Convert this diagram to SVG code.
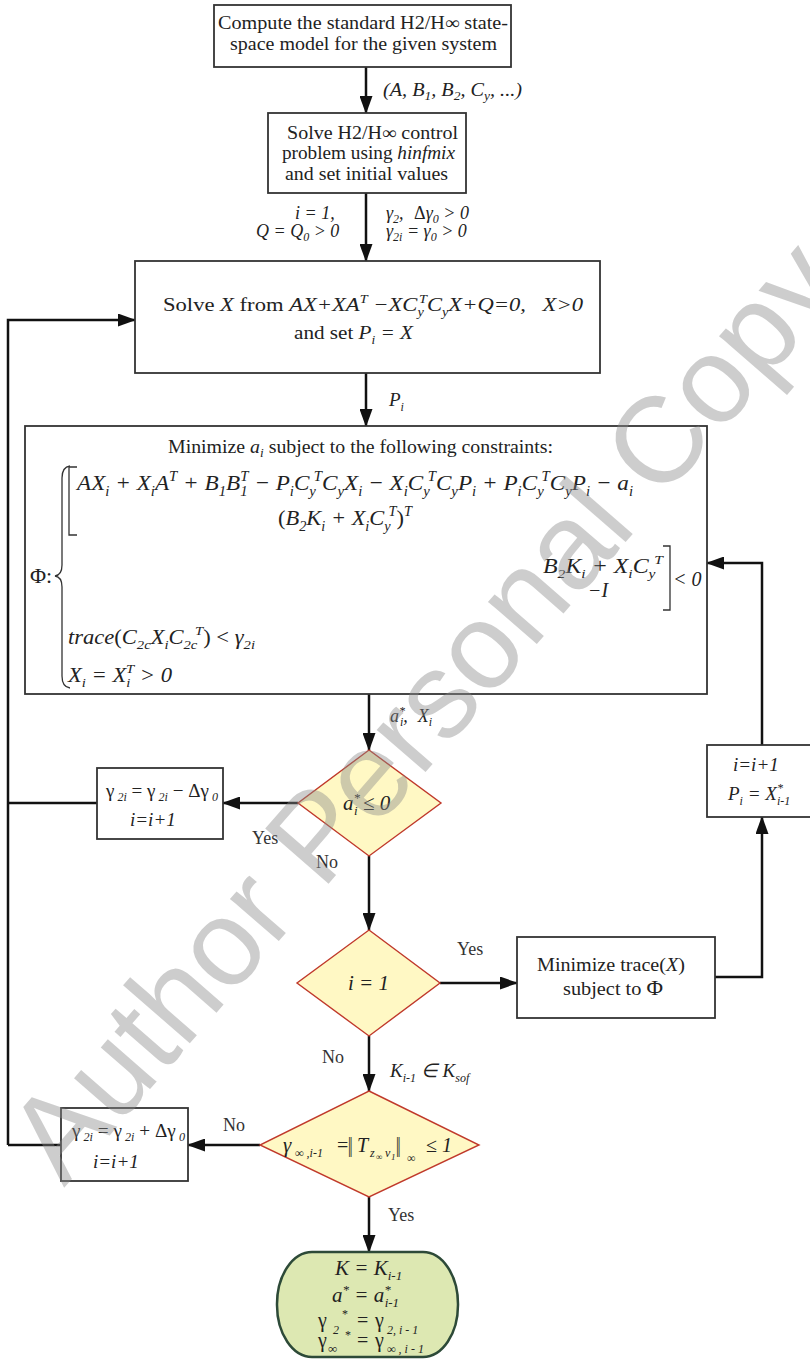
<svg xmlns="http://www.w3.org/2000/svg" width="810" height="1361" viewBox="0 0 810 1361">
<style>
.bx{fill:#fff;stroke:#333;stroke-width:1.8}
.dm{fill:#fff8c4;stroke:#c0392b;stroke-width:1.4}
.cn path{fill:none;stroke:#111;stroke-width:2.5}
.t{font-family:"Liberation Serif","Times New Roman",serif;fill:#222}
.i{font-style:italic}
.lb{font-family:"Liberation Serif","Times New Roman",serif;fill:#333;font-size:18px}
.br{fill:none;stroke:#333;stroke-width:1.3}
</style>
<defs>
<marker id="ah" markerUnits="userSpaceOnUse" markerWidth="18" markerHeight="13" refX="17" refY="6.5" orient="auto"><path d="M0,0 L18,6.5 L0,13 z" fill="#111"/></marker>
</defs>
<rect width="810" height="1361" fill="#fff"/>

<g id="connectors" class="cn">
<path d="M366,67 V113" marker-end="url(#ah)"/>
<path d="M366,193 V261" marker-end="url(#ah)"/>
<path d="M366,373 V426" marker-end="url(#ah)"/>
<path d="M369,694 V750" marker-end="url(#ah)"/>
<path d="M298,803 H223" marker-end="url(#ah)"/>
<path d="M97,803 H8"/>
<path d="M8,1145 V320 H135" marker-end="url(#ah)"/>
<path d="M61,1145 H8"/>
<path d="M369,856 V930" marker-end="url(#ah)"/>
<path d="M440,983 H517" marker-end="url(#ah)"/>
<path d="M715,977 H762 V817" marker-end="url(#ah)"/>
<path d="M762,745 V563 H707" marker-end="url(#ah)"/>
<path d="M369,1036 V1091" marker-end="url(#ah)"/>
<path d="M260,1145 H188" marker-end="url(#ah)"/>
<path d="M369,1197 V1252" marker-end="url(#ah)"/>
</g>

<g id="edge-labels">
<text class="t i" font-size="18" x="383" y="96" textLength="139" lengthAdjust="spacingAndGlyphs">(A, B<tspan font-size="12" dy="4">1</tspan><tspan dy="-4">, B</tspan><tspan font-size="12" dy="4">2</tspan><tspan dy="-4">, C</tspan><tspan font-size="12" dy="4">y</tspan><tspan dy="-4">, ...)</tspan></text>
<text class="t i" font-size="18" x="295" y="219">i = 1,</text>
<text class="t i" font-size="18" x="256" y="237">Q = Q<tspan font-size="12" dy="4">0</tspan><tspan dy="-4"> &gt; 0</tspan></text>
<text class="t i" font-size="18" x="386" y="219">γ<tspan font-size="12" dy="4">2</tspan><tspan dy="-4">,  </tspan><tspan font-style="normal" dx="6">Δ</tspan>γ<tspan font-size="12" dy="4">0</tspan><tspan dy="-4"> &gt; 0</tspan></text>
<text class="t i" font-size="18" x="386" y="237">γ<tspan font-size="12" dy="4">2i</tspan><tspan dy="-4"> = γ</tspan><tspan font-size="12" dy="4">0</tspan><tspan dy="-4"> &gt; 0</tspan></text>
<text class="t i" font-size="19" x="389" y="406">P<tspan font-size="12" dy="5">i</tspan></text>
<text class="t i" font-size="18" x="390" y="722">a<tspan font-size="12" dy="-7">*</tspan><tspan font-size="12" dx="-5" dy="11">i</tspan><tspan dy="-4">,</tspan><tspan dx="10">X</tspan><tspan font-size="12" dy="4">i</tspan></text>
<text class="lb" x="252" y="844">Yes</text>
<text class="lb" x="316" y="868">No</text>
<text class="lb" x="457" y="955">Yes</text>
<text class="lb" x="322" y="1063">No</text>
<text class="t i" font-size="19" x="390" y="1077">K<tspan font-size="12" dy="5">i-1</tspan><tspan dy="-5"> ∈ K</tspan><tspan font-size="12" dy="5">sof</tspan></text>
<text class="lb" x="223" y="1131">No</text>
<text class="lb" x="388" y="1221">Yes</text>
</g>

<g id="n1">
<rect class="bx" x="214" y="5" width="297" height="62"/>
<text class="t" font-size="18" x="218" y="29" textLength="290" lengthAdjust="spacingAndGlyphs">Compute the standard H2/H∞ state-</text>
<text class="t" font-size="18" x="230" y="50" textLength="267" lengthAdjust="spacingAndGlyphs">space model for the given system</text>
</g>

<g id="n2">
<rect class="bx" x="268" y="113" width="198" height="80"/>
<text class="t" font-size="18" x="287" y="139" textLength="171" lengthAdjust="spacingAndGlyphs">Solve H2/H∞ control</text>
<text class="t" font-size="18" x="282" y="159" textLength="173" lengthAdjust="spacingAndGlyphs">problem using <tspan class="i">hinfmix</tspan></text>
<text class="t" font-size="18" x="285" y="180" textLength="163" lengthAdjust="spacingAndGlyphs">and set initial values</text>
</g>

<g id="n3">
<rect class="bx" x="135" y="261" width="465" height="112"/>
<text class="t" font-size="19" x="163" y="311" textLength="420" lengthAdjust="spacingAndGlyphs">Solve <tspan class="i">X</tspan> from <tspan class="i">AX+XA</tspan><tspan class="i" font-size="12" dy="-8">T</tspan><tspan class="i" dy="8"> −XC</tspan><tspan class="i" font-size="12" dy="5">y</tspan><tspan class="i" font-size="12" dx="-4" dy="-13">T</tspan><tspan class="i" dy="8">C</tspan><tspan class="i" font-size="12" dy="5">y</tspan><tspan class="i" dy="-5">X+Q=0,</tspan><tspan class="i" dx="14">X&gt;0</tspan></text>
<text class="t" font-size="19" x="294" y="339" textLength="119" lengthAdjust="spacingAndGlyphs">and set <tspan class="i">P</tspan><tspan class="i" font-size="12" dy="5">i</tspan><tspan class="i" dy="-5"> = X</tspan></text>
</g>

<g id="n4">
<rect class="bx" x="25" y="426" width="682" height="268"/>
<text class="t" font-size="18" x="168" y="453" textLength="385" lengthAdjust="spacingAndGlyphs">Minimize <tspan class="i">a</tspan><tspan class="i" font-size="12" dy="4">i</tspan><tspan dy="-4"> subject to the following constraints:</tspan></text>
<path class="br" d="M77,467 H69 V535 H77"/>
<path class="br" d="M663,546 H670 V610 H663"/>
<path class="br" d="M70,466 Q62,467 62,478 L62,565 Q62,575 55,576 Q62,577 62,587 L62,676 Q62,687 70,688"/>
<text class="t" font-size="22" x="30" y="583">Φ:</text>
<text class="t i" font-size="22" x="77" y="490" textLength="556" lengthAdjust="spacingAndGlyphs">AX<tspan font-size="14" dy="6">i</tspan><tspan dy="-6"> + X</tspan><tspan font-size="14" dy="6">i</tspan><tspan dy="-6">A</tspan><tspan font-size="14" dy="-9">T</tspan><tspan dy="9"> + B</tspan><tspan font-size="14" dy="6">1</tspan><tspan dy="-6">B</tspan><tspan font-size="14" dy="6">1</tspan><tspan font-size="14" dx="-7" dy="-15">T</tspan><tspan dy="9"> − P</tspan><tspan font-size="14" dy="6">i</tspan><tspan dy="-6">C</tspan><tspan font-size="14" dy="6">y</tspan><tspan font-size="14" dx="-2" dy="-15">T</tspan><tspan dy="9">C</tspan><tspan font-size="14" dy="6">y</tspan><tspan dy="-6">X</tspan><tspan font-size="14" dy="6">i</tspan><tspan dy="-6"> − X</tspan><tspan font-size="14" dy="6">i</tspan><tspan dy="-6">C</tspan><tspan font-size="14" dy="6">y</tspan><tspan font-size="14" dx="-2" dy="-15">T</tspan><tspan dy="9">C</tspan><tspan font-size="14" dy="6">y</tspan><tspan dy="-6">P</tspan><tspan font-size="14" dy="6">i</tspan><tspan dy="-6"> + P</tspan><tspan font-size="14" dy="6">i</tspan><tspan dy="-6">C</tspan><tspan font-size="14" dy="6">y</tspan><tspan font-size="14" dx="-2" dy="-15">T</tspan><tspan dy="9">C</tspan><tspan font-size="14" dy="6">y</tspan><tspan dy="-6">P</tspan><tspan font-size="14" dy="6">i</tspan><tspan dy="-6"> − a</tspan><tspan font-size="14" dy="6">i</tspan></text>
<text class="t i" font-size="22" x="278" y="525" textLength="134" lengthAdjust="spacingAndGlyphs"><tspan font-style="normal">(</tspan>B<tspan font-size="14" dy="6">2</tspan><tspan dy="-6">K</tspan><tspan font-size="14" dy="6">i</tspan><tspan dy="-6"> + X</tspan><tspan font-size="14" dy="6">i</tspan><tspan dy="-6">C</tspan><tspan font-size="14" dy="6">y</tspan><tspan font-size="14" dx="-2" dy="-15">T</tspan><tspan font-style="normal" dy="9">)</tspan><tspan font-size="14" dy="-9">T</tspan></text>
<text class="t i" font-size="20" x="543" y="573" textLength="120" lengthAdjust="spacingAndGlyphs">B<tspan font-size="13" dy="5">2</tspan><tspan dy="-5">K</tspan><tspan font-size="13" dy="5">i</tspan><tspan dy="-5"> + X</tspan><tspan font-size="13" dy="5">i</tspan><tspan dy="-5">C</tspan><tspan font-size="13" dy="5">y</tspan><tspan font-size="13" dx="-1" dy="-14">T</tspan></text>
<text class="t i" font-size="20" x="588" y="597">−I</text>
<text class="t i" font-size="20" x="673" y="586">&lt; 0</text>
<text class="t i" font-size="20" x="68" y="644" textLength="187" lengthAdjust="spacingAndGlyphs">trace<tspan font-style="normal">(</tspan>C<tspan font-size="13" dy="5">2c</tspan><tspan dy="-5">X</tspan><tspan font-size="13" dy="5">i</tspan><tspan dy="-5">C</tspan><tspan font-size="13" dy="5">2c</tspan><tspan font-size="13" dx="-2" dy="-14">T</tspan><tspan font-style="normal" dy="9">) &lt; </tspan>γ<tspan font-size="13" dy="5">2i</tspan></text>
<text class="t i" font-size="20" x="68" y="682" textLength="104" lengthAdjust="spacingAndGlyphs">X<tspan font-size="13" dy="5">i</tspan><tspan dy="-5"> = X</tspan><tspan font-size="13" dy="5">i</tspan><tspan font-size="13" dx="-4" dy="-14">T</tspan><tspan dy="9"> &gt; 0</tspan></text>
</g>

<g id="d1">
<polygon class="dm" points="369,750 441,803 369,856 298,803"/>
<text class="t i" font-size="21" x="343" y="810">a<tspan font-size="13" dy="-8">*</tspan><tspan font-size="13" dx="-6" dy="13">i</tspan><tspan dy="-5"> ≤ 0</tspan></text>
</g>

<g id="b-dec">
<rect class="bx" x="97" y="768" width="126" height="71"/>
<text class="t" font-size="19" x="106" y="797" textLength="112" lengthAdjust="spacingAndGlyphs">γ<tspan class="i" font-size="12" dy="4"> 2i</tspan><tspan dy="-4"> = γ</tspan><tspan class="i" font-size="12" dy="4"> 2i</tspan><tspan dy="-4"> − Δγ</tspan><tspan class="i" font-size="12" dy="4"> 0</tspan></text>
<text class="t i" font-size="19" x="130" y="826">i=i+1</text>
</g>

<g id="b-upd">
<rect class="bx" x="707" y="745" width="110" height="72"/>
<text class="t i" font-size="19" x="733" y="771">i=i+1</text>
<text class="t i" font-size="19" x="728" y="800">P<tspan font-size="12" dy="5">i</tspan><tspan dy="-5"> = X</tspan><tspan font-size="12" dy="-8">*</tspan><tspan font-size="12" dx="-6" dy="13">i-1</tspan></text>
</g>

<g id="d2">
<polygon class="dm" points="369,930 440,983 369,1036 297,983"/>
<text class="t i" font-size="21" x="348" y="990">i = 1</text>
</g>

<g id="b-trace">
<rect class="bx" x="517" y="937" width="198" height="81"/>
<text class="t" font-size="18" x="537" y="971" textLength="148" lengthAdjust="spacingAndGlyphs">Minimize trace(<tspan class="i">X</tspan>)</text>
<text class="t" font-size="18" x="563" y="995" textLength="100" lengthAdjust="spacingAndGlyphs">subject to <tspan font-size="20">Φ</tspan></text>
</g>

<g id="d3">
<polygon class="dm" points="369,1091 479,1145 369,1197 260,1145"/>
<text class="t i" font-size="21" x="283" y="1152">γ</text>
<text class="t i" font-size="12" x="295" y="1157">∞ ,i-1</text>
<text class="t" font-size="20" x="337" y="1152">=</text>
<text class="t" font-size="20" transform="translate(348,1157) scale(0.8,1.5)">‖</text>
<text class="t i" font-size="20" x="357" y="1152">T</text>
<text class="t i" font-size="12" x="370" y="1157">z</text>
<text class="t" font-size="9" x="376" y="1160">∞</text>
<text class="t i" font-size="12" x="385" y="1157">v</text>
<text class="t i" font-size="9" x="391" y="1160">1</text>
<text class="t" font-size="20" transform="translate(396,1157) scale(0.8,1.5)">‖</text>
<text class="t" font-size="12" x="407" y="1162">∞</text>
<text class="t" font-size="20" x="426" y="1152">≤ <tspan class="i">1</tspan></text>
</g>

<g id="b-inc">
<rect class="bx" x="61" y="1108" width="127" height="73"/>
<text class="t" font-size="19" x="72" y="1137" textLength="113" lengthAdjust="spacingAndGlyphs">γ<tspan class="i" font-size="12" dy="4"> 2i</tspan><tspan dy="-4"> = γ</tspan><tspan class="i" font-size="12" dy="4"> 2i</tspan><tspan dy="-4"> + Δγ</tspan><tspan class="i" font-size="12" dy="4"> 0</tspan></text>
<text class="t i" font-size="19" x="93" y="1168">i=i+1</text>
</g>

<g id="end">
<rect x="277" y="1252" width="181" height="105" rx="35" ry="52" fill="#dde8b2" stroke="#2d4a38" stroke-width="2.5"/>
<text class="t i" font-size="21" x="335" y="1275">K = K<tspan font-size="13" dy="5">i-1</tspan></text>
<text class="t i" font-size="21" x="332" y="1302">a<tspan font-size="13" dy="-8">*</tspan><tspan dy="8"> = a</tspan><tspan font-size="13" dy="-8">*</tspan><tspan font-size="13" dx="-6" dy="13">i-1</tspan></text>
<text class="t" font-size="20" x="318" y="1327">γ</text>
<text class="t i" font-size="12" x="333" y="1334">2</text>
<text class="t" font-size="12" x="342" y="1318">*</text>
<text class="t" font-size="12" x="345" y="1339">*</text>
<text class="t" font-size="20" x="357" y="1327">=</text>
<text class="t" font-size="20" x="375" y="1327">γ</text>
<text class="t i" font-size="12" x="387" y="1334">2, i - 1</text>
<text class="t" font-size="20" x="318" y="1347">γ</text>
<text class="t" font-size="13" x="328" y="1353">∞</text>
<text class="t" font-size="20" x="357" y="1347">=</text>
<text class="t" font-size="20" x="375" y="1347">γ</text>
<text class="t i" font-size="12" x="387" y="1353">∞ , i - 1</text>
</g>

<g id="watermark">
<text font-family="Liberation Sans, Arial, sans-serif" font-size="122" fill="#8a8a8a" opacity="0.42" transform="translate(64,1188) rotate(-49)">Author Personal Copy</text>
</g>
</svg>
